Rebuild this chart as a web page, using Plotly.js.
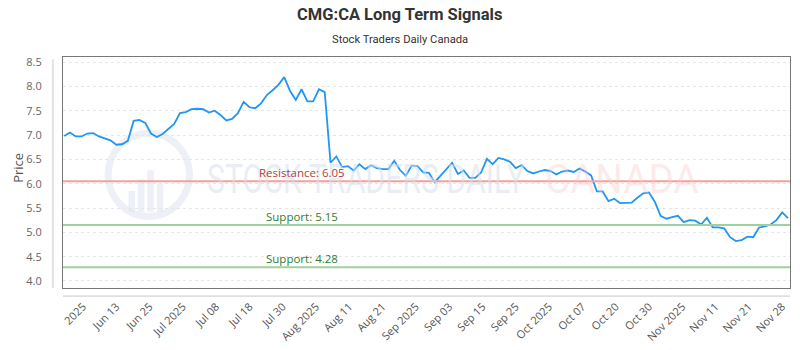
<!DOCTYPE html>
<html>
<head>
<meta charset="utf-8">
<script src="https://cdn.plot.ly/plotly-3.0.1.min.js"></script>
<style>
html,body{margin:0;padding:0;background:#fff;}
#chart{width:800px;height:350px;}
.wm-a{transform-box:fill-box;transform-origin:left center;transform:scale(1.08,1.45);}
.wm-b{transform-box:fill-box;transform-origin:left center;transform:scale(1.38,1.45);}
</style>
</head>
<body>
<div id="chart"></div>
<script>
const prices = [
  6.98, 7.05, 6.97, 6.97, 7.03, 7.04, 6.97, 6.93, 6.89, 6.80,
  6.81, 6.88, 7.29, 7.31, 7.25, 7.03, 6.96, 7.02, 7.12, 7.23,
  7.45, 7.47, 7.53, 7.54, 7.53, 7.46, 7.50, 7.41, 7.30, 7.33,
  7.45, 7.68, 7.57, 7.55, 7.65, 7.82, 7.92, 8.03, 8.19, 7.91,
  7.72, 7.94, 7.69, 7.69, 7.94, 7.88, 6.43, 6.56, 6.34, 6.36,
  6.27, 6.40, 6.30, 6.38, 6.32, 6.30, 6.30, 6.47, 6.28, 6.16,
  6.37, 6.36, 6.23, 6.22, 6.03, 6.16, 6.30, 6.43, 6.20, 6.27,
  6.12, 6.12, 6.23, 6.51, 6.40, 6.53, 6.50, 6.45, 6.32, 6.38,
  6.26, 6.21, 6.25, 6.28, 6.26, 6.19, 6.25, 6.27, 6.24, 6.31,
  6.25, 6.17, 5.84, 5.84, 5.64, 5.69, 5.60, 5.61, 5.61, 5.71,
  5.80, 5.82, 5.63, 5.34, 5.28, 5.31, 5.34, 5.21, 5.25, 5.24,
  5.16, 5.30, 5.10, 5.10, 5.08, 4.90, 4.82, 4.84, 4.91, 4.90,
  5.10, 5.12, 5.16, 5.25, 5.41, 5.29
];
const tickLabels = ["2025","Jun 13","Jun 25","Jul 2025","Jul 08","Jul 18","Jul 30","Aug 2025",
  "Aug 11","Aug 21","Sep 2025","Sep 03","Sep 15","Sep 25","Oct 2025","Oct 07","Oct 20",
  "Oct 30","Nov 2025","Nov 11","Nov 21","Nov 28"];
const resistanceLevel = 6.05;
const supportLevels = [5.15, 4.28];

const xIdx = prices.map((_, i) => i);
const tickVals = tickLabels.map((_, i) => 3.25 + i * 5.75);

const head = 'Roboto, "Noto Sans", sans-serif';
const body = '"Open Sans", "Noto Sans", sans-serif';

const wmGray = 'rgba(222,228,238,0.55)';
const shapes = [
  // watermark logo
  {type:'circle', xref:'paper', yref:'paper', x0:0.062, x1:0.174, y0:0.31, y1:0.67,
   fillcolor:'rgba(0,0,0,0)', line:{color:wmGray, width:7}, layer:'below'},
  {type:'rect', xref:'paper', yref:'paper', x0:0.090, x1:0.099, y0:0.33, y1:0.42, fillcolor:wmGray, line:{width:0}, layer:'below'},
  {type:'rect', xref:'paper', yref:'paper', x0:0.103, x1:0.112, y0:0.33, y1:0.47, fillcolor:wmGray, line:{width:0}, layer:'below'},
  {type:'rect', xref:'paper', yref:'paper', x0:0.116, x1:0.125, y0:0.33, y1:0.51, fillcolor:wmGray, line:{width:0}, layer:'below'},
  {type:'rect', xref:'paper', yref:'paper', x0:0.129, x1:0.138, y0:0.33, y1:0.45, fillcolor:wmGray, line:{width:0}, layer:'below'},
  // levels
  {type:'line', xref:'paper', yref:'y', x0:0, x1:1, y0:resistanceLevel, y1:resistanceLevel,
   line:{color:'#f2a09a', width:2}},
  ...supportLevels.map(s => ({type:'line', xref:'paper', yref:'y', x0:0, x1:1, y0:s, y1:s,
   line:{color:'#9fd09f', width:2}})),
  // offset axis lines
  {type:'line', xref:'paper', yref:'paper', x0:-0.0138, x1:-0.0138, y0:0, y1:0.99,
   line:{color:'#c8c8c8', width:1}},
  {type:'line', xref:'paper', yref:'paper', x0:0, x1:1, y0:-0.035, y1:-0.035,
   line:{color:'#c8c8c8', width:1}}
];

const annotations = [
  {xref:'paper', yref:'paper', x:0.196, y:0.47, text:'STOCK TRADERS DAILY', showarrow:false,
   xanchor:'left', yanchor:'middle', font:{family:head, size:28, color:'rgba(215,222,235,0.55)'}},
  {xref:'paper', yref:'paper', x:0.660, y:0.47, text:'CANADA', showarrow:false,
   xanchor:'left', yanchor:'middle', font:{family:head, size:28, color:'rgba(250,200,200,0.4)'}},
  {xref:'paper', yref:'y', x:0.329, y:resistanceLevel, yshift:9, xanchor:'center',
   text:'Resistance: ' + resistanceLevel.toFixed(2),
   showarrow:false, font:{family:body, size:11.5, color:'#b0413e'}},
  ...supportLevels.map(s => ({xref:'paper', yref:'y', x:0.329, y:s, yshift:9, xanchor:'center',
   text:'Support: ' + s.toFixed(2),
   showarrow:false, font:{family:body, size:11.5, color:'#2e7d32'}})),
  {xref:'paper', yref:'paper', x:0.4635, y:1.182, yanchor:'middle', xanchor:'center', showarrow:false,
   text:'<b>CMG:CA Long Term Signals</b>', font:{family:head, size:16.5, color:'#333'}},
  {xref:'paper', yref:'paper', x:0.4635, y:1.074, yanchor:'middle', xanchor:'center', showarrow:false,
   text:'Stock Traders Daily Canada', font:{family:head, size:11.2, color:'#333'}},
  {xref:'paper', yref:'paper', x:-0.062, y:0.52, yanchor:'middle', xanchor:'center', showarrow:false,
   textangle:-90, text:'Price', font:{family:body, size:13, color:'#555'}}
];

const trace = {
  x: xIdx, y: prices, type:'scatter', mode:'lines',
  line:{color:'#2196f3', width:1.8}, hoverinfo:'y'
};

const layout = {
  width:800, height:350,
  margin:{l:63, r:10, t:57, b:62},
  paper_bgcolor:'#fff', plot_bgcolor:'rgba(0,0,0,0)',
  showlegend:false,
  xaxis:{range:[-0.2, 125.35], showgrid:false, zeroline:false, showline:true, mirror:true,
    linecolor:'#777', linewidth:1, ticks:'', tickmode:'array', tickvals:tickVals, ticktext:tickLabels,
    tickangle:-45, tickfont:{family:body, size:11, color:'#555'}, ticklabelstandoff:7, fixedrange:true},
  yaxis:{range:[3.856, 8.603], dtick:0.5, tick0:4, tickformat:'.1f', showgrid:true, gridcolor:'#e6e6e6',
    griddash:'dot', zeroline:false, showline:true, mirror:true, linecolor:'#777', linewidth:1, ticks:'',
    tickfont:{family:body, size:11, color:'#666'}, ticklabelstandoff:18, fixedrange:true},
  shapes: shapes,
  annotations: annotations
};

Plotly.newPlot('chart', [trace], layout, {displayModeBar:false, staticPlot:true}).then(gd => {
  gd.querySelectorAll('.annotation-text').forEach(t => {
    const s = t.textContent;
    if (s === 'STOCK TRADERS DAILY') t.classList.add('wm-a');
    if (s === 'CANADA') t.classList.add('wm-b');
  });
});
</script>
</body>
</html>
